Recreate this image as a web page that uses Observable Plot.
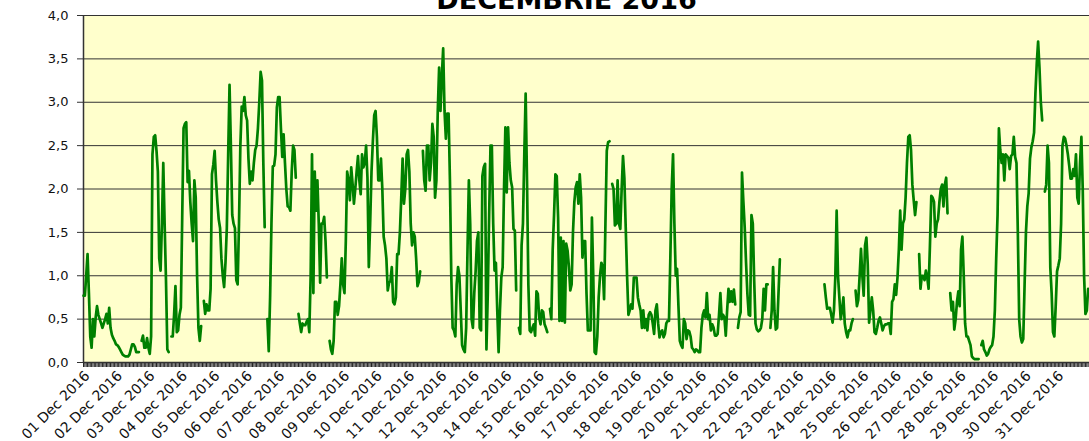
<!DOCTYPE html>
<html>
<head>
<meta charset="utf-8">
<script src="https://cdn.jsdelivr.net/npm/d3@7"></script>
<script src="https://cdn.jsdelivr.net/npm/@observablehq/plot@0.6"></script>
<style>
  html, body { margin: 0; padding: 0; background: #ffffff; }
  #chart { width: 1089px; height: 441px; overflow: hidden; }
</style>
</head>
<body>
<div id="chart"></div>
<script>
const title = "DECEMBRIE 2016";
const dayLabels = Array.from({length: 31}, (_, i) => String(i + 1).padStart(2, "0") + " Dec 2016");
const yTicks = [0, 0.5, 1, 1.5, 2, 2.5, 3, 3.5, 4];

// hourly values, one array per day (null = missing hour)
const d01 = [0.77,0.77,1.0,1.25,0.8,0.3,0.17,0.5,0.3,0.52,0.65,0.55,0.5,0.45,0.4,0.45,0.5,0.56,0.45,0.63,0.4,0.32,0.28,0.25];
const d02 = [0.21,0.2,0.18,0.15,0.12,0.09,0.08,0.07,0.07,0.07,0.09,0.15,0.21,0.21,0.18,0.12,0.12,0.12,null,0.25,0.31,0.17,0.17,0.28];
const d03 = [0.17,0.1,0.3,2.4,2.6,2.62,2.44,2.2,1.2,1.06,1.6,2.3,1.6,0.95,0.15,0.12,null,0.3,0.3,0.55,0.88,0.35,0.37,0.55];
const d04 = [0.63,1.67,2.7,2.75,2.77,2.08,2.21,1.85,1.6,1.4,2.1,1.9,1.0,0.4,0.25,0.42,null,0.71,0.56,0.67,0.6,0.6,0.85,2.17];
const d05 = [2.28,2.44,2.1,1.85,1.65,1.55,1.2,1.0,0.87,1.15,1.55,2.4,3.2,2.5,1.7,1.6,1.55,0.95,0.9,1.6,2.5,2.95,2.9,3.06];
const d06 = [2.85,2.79,2.35,2.06,2.2,2.1,2.3,2.45,2.5,2.7,3.0,3.35,3.25,2.3,1.56,null,0.5,0.13,0.75,1.6,2.26,2.27,2.4,2.94];
const d07 = [3.06,3.06,2.7,2.37,2.63,2.3,2.0,1.8,1.79,1.75,2.2,2.5,2.45,2.13,null,0.56,0.45,0.35,0.45,0.43,0.43,0.47,0.5,0.35];
const d08 = [1.0,2.4,0.8,2.2,1.75,2.1,1.6,0.92,1.6,1.6,1.68,1.4,0.98,null,0.25,0.15,0.1,0.25,0.7,0.7,0.55,0.65,0.9,1.2];
const d09 = [0.9,0.8,1.4,2.2,2.1,1.87,2.25,2.06,1.83,2.0,2.2,2.38,2.1,1.94,2.4,2.25,2.3,2.5,2.13,1.1,1.6,2.2,2.55,2.85];
const d10 = [2.9,2.6,2.1,2.1,2.35,2.0,1.45,1.35,1.2,0.83,0.92,0.94,1.1,0.7,0.67,0.75,1.25,1.25,1.5,1.9,2.35,1.83,2.0,2.4];
const d11 = [2.45,2.2,1.6,1.35,1.5,1.45,1.2,0.88,0.93,1.05,null,2.44,2.1,1.98,2.5,2.5,2.1,2.3,2.75,2.6,1.9,2.1,2.9,3.4];
const d12 = [2.9,3.3,3.62,2.9,2.58,2.87,2.87,2.1,1.0,0.4,0.37,0.3,0.9,1.1,1.0,0.6,0.2,0.15,0.12,0.4,1.3,2.1,1.6,0.5];
const d13 = [0.4,0.8,1.05,1.4,1.5,0.4,0.37,2.15,2.25,2.29,0.15,0.8,1.7,2.5,2.5,1.6,1.06,1.15,0.6,0.12,0.6,0.98,1.1,2.0];
const d14 = [2.71,1.96,2.71,2.3,2.1,2.02,1.54,1.52,0.83,null,0.4,0.33,1.35,1.6,2.4,3.1,2.1,0.9,0.37,0.35,0.4,0.44,0.31,0.82];
const d15 = [0.79,0.52,0.44,0.6,0.58,0.44,0.4,0.35,null,0.62,0.5,1.3,1.7,2.17,2.15,1.67,0.48,1.44,0.48,1.4,0.46,1.37,1.29,1.1];
const d16 = [0.83,0.9,1.5,1.85,2.02,2.08,1.83,2.17,1.9,1.21,1.4,1.4,0.8,0.37,0.37,0.37,1.67,1.0,0.12,0.1,0.3,0.75,1.0,1.15];
const d17 = [1.1,0.73,1.6,2.44,2.54,2.55,null,2.06,2.0,1.58,1.6,2.1,1.6,1.54,2.0,2.38,2.13,1.56,1.0,0.55,0.6,0.67,0.62,0.98];
const d18 = [0.98,0.98,0.75,0.67,0.6,0.4,0.6,0.4,0.5,0.37,0.55,0.58,0.55,0.45,0.33,0.6,0.67,0.45,0.29,0.35,0.37,0.29,0.33,0.45];
const d19 = [0.48,0.48,1.2,2.0,2.4,1.6,1.0,1.08,0.65,0.25,0.2,0.17,0.5,0.45,0.27,0.37,0.36,0.3,0.17,0.15,0.12,0.15,0.14,0.12];
const d20 = [0.12,0.4,0.55,0.6,0.52,0.8,0.5,0.55,0.37,0.44,0.4,0.31,0.31,0.33,0.55,0.8,0.5,0.55,0.52,0.31,0.6,0.85,0.7,0.82];
const d21 = [0.7,0.84,0.67,null,0.4,0.52,0.58,2.19,1.86,1.56,1.15,0.79,0.55,0.54,1.7,1.6,0.95,0.45,0.38,0.36,0.37,0.4,0.5,0.85];
const d22 = [0.6,0.9,0.9,null,0.4,0.6,1.1,0.6,0.38,0.4,0.8,1.19,null,null,null,null,null,null,null,null,null,null,null,null];
const d23 = [null,null,null,null,null,null,null,null,null,null,null,null,null,null,null,null,null,null,null,null,0.9,0.75,0.62,0.63];
const d24 = [0.63,0.55,0.46,0.6,0.98,1.75,1.0,0.75,0.5,0.6,0.75,0.45,0.35,0.29,0.37,0.37,0.45,0.5,null,0.83,0.65,0.72,1.0,1.31];
const d25 = [1.0,0.77,1.35,1.44,1.13,0.46,0.6,0.75,0.6,0.35,0.33,0.4,0.48,0.52,0.45,0.37,0.42,0.44,0.44,0.45,0.45,0.33,0.7,0.73];
const d26 = [0.9,0.78,0.98,1.3,1.75,1.3,1.6,1.65,1.9,2.3,2.6,2.62,2.45,2.05,1.87,1.7,1.85,null,1.25,0.85,1.0,1.0,0.95,1.06];
const d27 = [0.98,0.85,1.35,1.92,1.9,1.85,1.45,1.6,1.65,1.85,2.0,2.05,1.8,2.05,2.13,1.72,null,0.8,0.6,0.7,0.38,0.5,0.7,0.82];
const d28 = [0.65,1.3,1.45,1.0,0.45,0.3,0.3,0.25,0.2,0.07,0.05,0.04,0.04,0.04,0.04,null,0.2,0.25,0.15,0.12,0.08,0.1,0.15,0.18];
const d29 = [0.2,0.3,0.6,1.2,1.7,2.7,2.45,2.3,2.4,2.1,2.4,2.38,2.36,2.23,2.38,2.4,2.6,2.37,2.3,1.5,0.5,0.3,0.23,0.27];
const d30 = [0.9,1.5,1.8,1.95,2.35,2.48,2.55,2.65,3.1,3.45,3.7,3.4,3.0,2.79,null,1.97,2.05,2.5,2.3,1.1,0.8,0.35,0.3,0.65];
const d31 = [1.05,1.12,1.2,1.6,2.5,2.6,2.58,2.5,2.4,2.27,2.12,2.12,2.23,2.15,2.4,1.9,1.83,2.3,2.6,2.0,1.0,0.56,0.6,0.85];

const days = [d01,d02,d03,d04,d05,d06,d07,d08,d09,d10,d11,d12,d13,d14,d15,d16,d17,d18,d19,d20,d21,d22,d23,d24,d25,d26,d27,d28,d29,d30,d31];
const series = days.flat().map((v, i) => ({hour: i, value: v}));
const hours = d3.range(0, 744);
const dayStarts = dayLabels.map((label, i) => ({label, hour: i * 24}));
const fmt = d => d.toFixed(1).replace(".", ",");

const chart = Plot.plot({
  width: 1089,
  height: 441,
  marginLeft: 83,
  marginRight: 0,
  marginTop: 15,
  marginBottom: 79,
  style: {fontFamily: "'DejaVu Sans', Verdana, sans-serif", background: "#ffffff", overflow: "visible"},
  x: {domain: [0, 744], axis: null},
  y: {domain: [0, 4], axis: null},
  marks: [
    Plot.frame({fill: "#FFFFCC", stroke: null}),
    Plot.gridY(yTicks, {stroke: "#333", strokeOpacity: 1, strokeWidth: 1}),
    Plot.axisY(yTicks, {tickFormat: fmt, tickSize: 6, tickPadding: 9, fontSize: 13, fill: "#111", stroke: "#333", label: null}),
    Plot.axisX(hours, {tickSize: 5, tickFormat: () => "", stroke: "#222", label: null}),
    Plot.ruleX([0], {stroke: "#333", strokeWidth: 1.5}),
    Plot.ruleY([0], {stroke: "#333", strokeWidth: 1.5}),
    Plot.lineY(series, {x: "hour", y: "value", stroke: "#008000", strokeWidth: 2.7, curve: "linear"}),
    Plot.text(dayStarts, {x: "hour", text: "label", frameAnchor: "bottom", rotate: -45, textAnchor: "end", lineAnchor: "middle", dx: 4, dy: 11, fontSize: 14, fill: "#111"}),
    Plot.text([title], {frameAnchor: "top", text: d => d, dx: -20, dy: -7, lineAnchor: "bottom", fontSize: 27, fontWeight: "bold", fill: "#000"})
  ]
});
document.getElementById("chart").appendChild(chart);
</script>
</body>
</html>
